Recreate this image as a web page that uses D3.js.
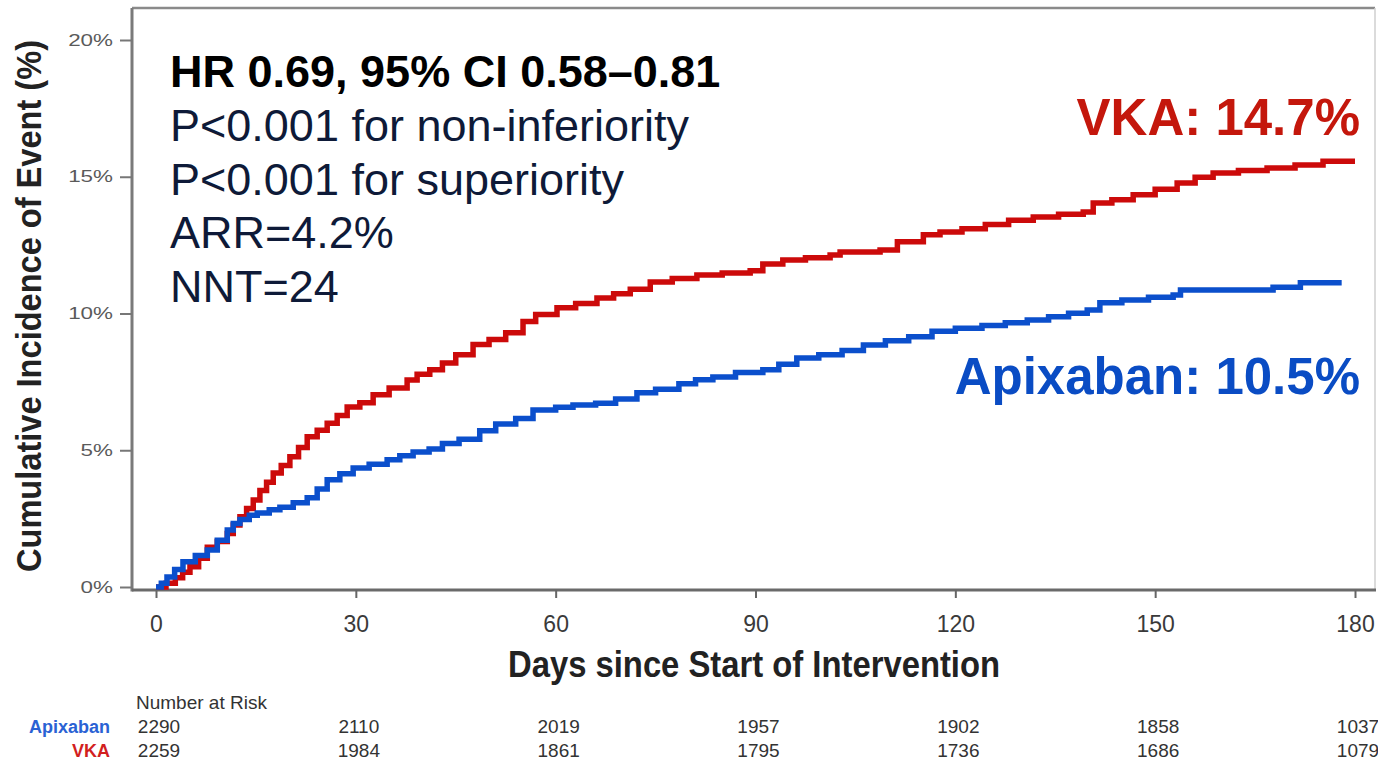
<!DOCTYPE html>
<html>
<head>
<meta charset="utf-8">
<script src="https://cdn.jsdelivr.net/npm/d3@7"></script>
<style>
  html, body { margin: 0; padding: 0; background: #fff; }
  svg { display: block; font-family: "Liberation Sans", Arial, sans-serif; }
</style>
</head>
<body>
<svg id="chart" width="1378" height="762"></svg>
<script>
// Kaplan-Meier cumulative incidence (%) by day since start of intervention
const vkaCurve = [
  [0,0],[1.5,0.14],[2.9,0.34],[4,0.54],[5.1,0.74],[6.4,1.05],[7.7,1.45],[9.2,1.66],[10.7,1.96],
  [11.6,2.27],[12.6,2.57],[13.6,2.87],[14.6,3.18],[15.6,3.53],[16.6,3.83],[17.6,4.17],[18.8,4.44],
  [20.1,4.76],[21.4,5.1],[22.7,5.49],[24.2,5.73],[25.7,5.99],[27.2,6.27],[28.7,6.58],[30.6,6.74],
  [32.6,7.03],[35,7.28],[37.7,7.57],[39.2,7.78],[41.1,7.94],[43,8.19],[45,8.49],[47.6,8.87],
  [50,9.05],[52.5,9.3],[55.1,9.71],[57,9.96],[60.2,10.21],[63,10.37],[66.2,10.57],[68.7,10.72],
  [71.2,10.89],[74.2,11.15],[77.5,11.28],[81.2,11.41],[85,11.48],[89.2,11.56],[91.1,11.81],
  [94.1,11.96],[97.5,12.04],[101.2,12.14],[102.7,12.25],[108.7,12.32],[111.3,12.62],
  [115.2,12.88],[117.7,12.98],[121,13.1],[124.5,13.25],[128,13.41],[131.7,13.53],[135.5,13.63],
  [139.2,13.71],[140.7,14.04],[143.5,14.16],[146.7,14.34],[150,14.54],[153.3,14.77],[156,14.98],
  [158.7,15.14],[162.5,15.23],[166.8,15.32],[171,15.43],[175.2,15.57],[180,15.57]
];
const apixabanCurve = [
  [0,0],[0.8,0.14],[1.65,0.37],[2.8,0.64],[4.05,0.92],[5.9,1.15],[7.7,1.35],[9.2,1.71],[10.7,2.08],
  [11.6,2.32],[12.6,2.47],[14,2.62],[15.2,2.71],[17,2.82],[18.6,2.92],[20.6,3.08],[22.7,3.26],
  [24.2,3.58],[25.7,3.92],[27.6,4.14],[29.6,4.35],[32,4.49],[34.7,4.65],[36.6,4.8],[38.6,4.94],
  [41,5.05],[43,5.25],[45.5,5.4],[48.6,5.71],[51,5.96],[54,6.16],[56.6,6.47],[60,6.57],
  [62.6,6.65],[66,6.72],[69,6.87],[72.2,7.1],[75,7.23],[78.5,7.43],[81,7.58],[83.6,7.68],
  [87,7.84],[91.1,7.94],[93.5,8.14],[96.2,8.37],[99.5,8.49],[103,8.65],[106.2,8.85],[109.5,9.0],
  [113,9.15],[116.5,9.35],[120,9.46],[124,9.56],[127.5,9.66],[130.8,9.76],[134,9.88],[137,10.01],
  [139.8,10.13],[141.7,10.39],[145,10.49],[149,10.59],[152.7,10.68],[153.8,10.86],[160,10.86],
  [166.2,10.86],[167.7,10.96],[171.8,11.12],[178,11.12]
];

// Axis ticks
const dayTicks = [0, 30, 60, 90, 120, 150, 180];
const pctTicks = [0, 5, 10, 15, 20];

// Number at risk at each day tick
const riskApixaban = [2290, 2110, 2019, 1957, 1902, 1858, 1037];
const riskVKA = [2259, 1984, 1861, 1795, 1736, 1686, 1079];

// Summary statistics
const statLines = [
  "HR 0.69, 95% CI 0.58\u20130.81",
  "P<0.001 for non-inferiority",
  "P<0.001 for superiority",
  "ARR=4.2%",
  "NNT=24"
];
const vkaRate = 14.7;
const apixabanRate = 10.5;

const colors = { VKA: "#cc0a0a", Apixaban: "#0b4fcc" };
const labelColors = { VKA: "#c4170c", Apixaban: "#0a4cc4" };
const tableColors = { VKA: "#d21f1f", Apixaban: "#2a62d4" };

const svg = d3.select("#chart");

const x = d3.scaleLinear().domain([0, 180]).range([156, 1355]);
const y = d3.scaleLinear().domain([0, 20]).range([587, 40]);

const frame = { left: 132, top: 8, right: 1375, bottom: 590 };

// Frame
svg.append("line").attr("x1", frame.left).attr("x2", frame.right)
  .attr("y1", frame.top).attr("y2", frame.top)
  .attr("stroke", "#8a8a8a").attr("stroke-width", 2.5);
svg.append("line").attr("x1", frame.right).attr("x2", frame.right)
  .attr("y1", frame.top).attr("y2", frame.bottom)
  .attr("stroke", "#cfcfcf").attr("stroke-width", 1.5);
svg.append("line").attr("x1", frame.left).attr("x2", frame.left)
  .attr("y1", frame.top).attr("y2", frame.bottom + 1.5)
  .attr("stroke", "#7a7a7a").attr("stroke-width", 3);
svg.append("line").attr("x1", frame.left).attr("x2", frame.right + 1)
  .attr("y1", frame.bottom).attr("y2", frame.bottom)
  .attr("stroke", "#6a6a6a").attr("stroke-width", 3);

// Y axis
const yAxis = svg.append("g")
  .attr("transform", `translate(${frame.left},0)`)
  .call(d3.axisLeft(y).tickValues(pctTicks).tickFormat(d => d + "%")
    .tickSize(12).tickPadding(7));
yAxis.select(".domain").remove();
yAxis.selectAll(".tick line").attr("stroke", "#777").attr("stroke-width", 2);
yAxis.selectAll(".tick text")
  .attr("fill", "#5a5a5a").style("font-size", "16px")
  .each(function () {
    const w = this.getComputedTextLength();
    d3.select(this).attr("textLength", w * 1.4).attr("lengthAdjust", "spacingAndGlyphs");
  });

// X axis
const xAxis = svg.append("g")
  .attr("transform", `translate(0,${frame.bottom})`)
  .call(d3.axisBottom(x).tickValues(dayTicks).tickSize(8).tickPadding(18));
xAxis.select(".domain").remove();
xAxis.selectAll(".tick line").attr("stroke", "#666").attr("stroke-width", 2);
xAxis.selectAll(".tick text").attr("fill", "#3a3a3a").style("font-size", "23px");

// Axis titles
svg.append("text")
  .attr("x", 754).attr("y", 677)
  .attr("text-anchor", "middle")
  .style("font-size", "36px").style("font-weight", "bold").attr("fill", "#222")
  .attr("textLength", 492).attr("lengthAdjust", "spacingAndGlyphs")
  .text("Days since Start of Intervention");

svg.append("text")
  .attr("transform", "translate(41,306) rotate(-90)")
  .attr("text-anchor", "middle")
  .style("font-size", "35px").style("font-weight", "bold").attr("fill", "#222")
  .attr("textLength", 532).attr("lengthAdjust", "spacingAndGlyphs")
  .text("Cumulative Incidence of Event (%)");

// Curves
const line = d3.line()
  .x(d => x(d[0]))
  .y(d => y(d[1]))
  .curve(d3.curveStepAfter);

const series = [
  { name: "VKA", data: vkaCurve },
  { name: "Apixaban", data: apixabanCurve }
];
svg.append("g").selectAll("path")
  .data(series)
  .join("path")
  .attr("d", d => line(d.data))
  .attr("fill", "none")
  .attr("stroke", d => colors[d.name])
  .attr("stroke-width", 5.5)
  .attr("stroke-linejoin", "miter");

// Statistics block
svg.append("g").selectAll("text")
  .data(statLines)
  .join("text")
  .attr("x", 170)
  .attr("y", (d, i) => 87 + i * 53.8)
  .style("font-size", "45px")
  .style("font-weight", (d, i) => i === 0 ? "bold" : "normal")
  .attr("fill", (d, i) => i === 0 ? "#000" : "#0e1a38")
  .text(d => d);

// End-of-curve rate labels
svg.append("text")
  .attr("x", 1360).attr("y", 135)
  .attr("text-anchor", "end")
  .style("font-size", "51px").style("font-weight", "bold")
  .attr("fill", labelColors.VKA)
  .text(`VKA: ${vkaRate.toFixed(1)}%`);
svg.append("text")
  .attr("x", 1360).attr("y", 394)
  .attr("text-anchor", "end")
  .style("font-size", "51px").style("font-weight", "bold")
  .attr("fill", labelColors.Apixaban)
  .text(`Apixaban: ${apixabanRate.toFixed(1)}%`);

// Number at risk table
svg.append("text")
  .attr("x", 136).attr("y", 709)
  .style("font-size", "19px").attr("fill", "#333")
  .text("Number at Risk");

const riskRows = [
  { name: "Apixaban", values: riskApixaban, yPos: 733 },
  { name: "VKA", values: riskVKA, yPos: 757 }
];
riskRows.forEach(row => {
  svg.append("text")
    .attr("x", 110).attr("y", row.yPos)
    .attr("text-anchor", "end")
    .style("font-size", "18px").style("font-weight", "bold")
    .attr("fill", tableColors[row.name])
    .text(row.name);
  svg.append("g").selectAll("text")
    .data(row.values)
    .join("text")
    .attr("x", (d, i) => x(dayTicks[i]) + 3)
    .attr("y", row.yPos)
    .attr("text-anchor", "middle")
    .style("font-size", "19px").attr("fill", "#333")
    .text(d => d);
});
</script>
</body>
</html>
